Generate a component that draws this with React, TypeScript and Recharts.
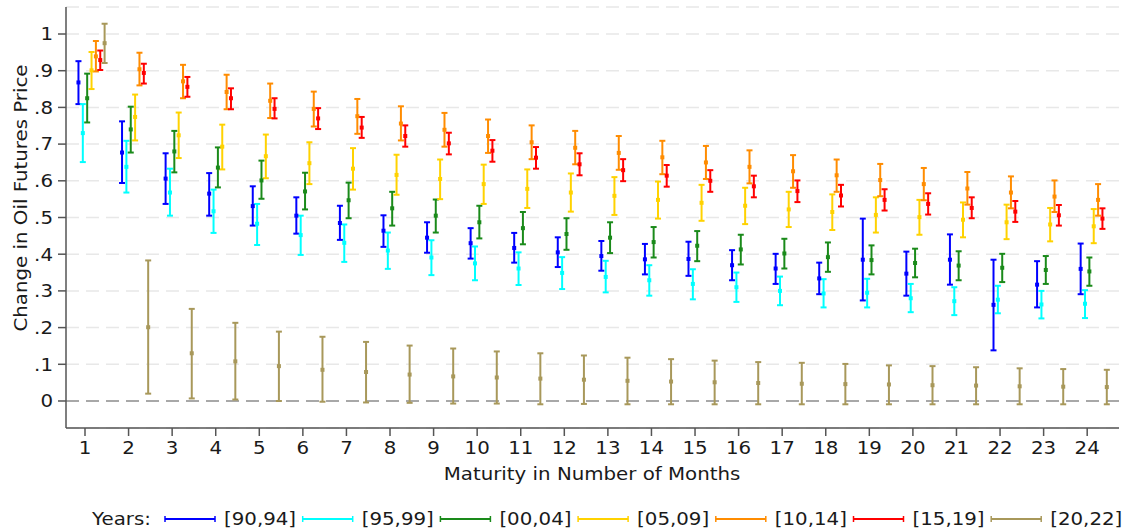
import React from 'react';
import { ScatterChart, Scatter, XAxis, YAxis, CartesianGrid, ErrorBar, ReferenceLine } from 'recharts';

const months = [1, 2, 3, 4, 5, 6, 7, 8, 9, 10, 11, 12, 13, 14, 15, 16, 17, 18, 19, 20, 21, 22, 23, 24];
const yTicks = [0, 0.1, 0.2, 0.3, 0.4, 0.5, 0.6, 0.7, 0.8, 0.9, 1];

const seriesNames = ['[90,94]', '[95,99]', '[00,04]', '[05,09]', '[10,14]', '[15,19]', '[20,22]'];
const seriesColors = ['#0000ff', '#00ffff', '#1a8a1a', '#ffd200', '#ff8c00', '#ff0000', '#a8985a'];
const seriesOffsets = [-0.15, -0.05, 0.05, 0.15, 0.25, 0.35, 0.45];

// [90,94]
const mid9094 = [0.868, 0.677, 0.606, 0.565, 0.531, 0.505, 0.485, 0.464, 0.445, 0.43, 0.417, 0.405, 0.395, 0.386, 0.387, 0.37, 0.361, 0.334, 0.385, 0.347, 0.385, 0.262, 0.317, 0.36];
const lo9094 = [0.809, 0.594, 0.537, 0.505, 0.478, 0.456, 0.439, 0.42, 0.404, 0.388, 0.377, 0.365, 0.355, 0.345, 0.341, 0.329, 0.319, 0.291, 0.274, 0.287, 0.317, 0.138, 0.255, 0.291];
const hi9094 = [0.926, 0.762, 0.675, 0.621, 0.585, 0.555, 0.532, 0.506, 0.487, 0.471, 0.458, 0.446, 0.436, 0.428, 0.434, 0.411, 0.401, 0.377, 0.497, 0.407, 0.454, 0.385, 0.381, 0.429];
// [95,99]
const mid9599 = [0.73, 0.638, 0.568, 0.517, 0.483, 0.452, 0.431, 0.41, 0.391, 0.375, 0.361, 0.349, 0.338, 0.329, 0.319, 0.31, 0.3, 0.293, 0.295, 0.28, 0.272, 0.276, 0.263, 0.265];
const lo9599 = [0.651, 0.568, 0.505, 0.458, 0.425, 0.398, 0.379, 0.36, 0.343, 0.329, 0.316, 0.305, 0.296, 0.287, 0.277, 0.27, 0.261, 0.255, 0.255, 0.242, 0.234, 0.239, 0.225, 0.226];
const hi9599 = [0.809, 0.709, 0.633, 0.576, 0.537, 0.505, 0.481, 0.459, 0.438, 0.421, 0.405, 0.392, 0.382, 0.37, 0.359, 0.35, 0.339, 0.332, 0.333, 0.319, 0.31, 0.314, 0.3, 0.302];
// [00,04]
const mid0004 = [0.825, 0.74, 0.68, 0.636, 0.601, 0.571, 0.547, 0.525, 0.505, 0.487, 0.471, 0.455, 0.445, 0.433, 0.423, 0.413, 0.402, 0.392, 0.384, 0.376, 0.369, 0.363, 0.357, 0.353];
const lo0004 = [0.759, 0.677, 0.623, 0.582, 0.551, 0.522, 0.498, 0.478, 0.459, 0.443, 0.427, 0.412, 0.403, 0.391, 0.381, 0.372, 0.361, 0.352, 0.345, 0.337, 0.329, 0.324, 0.319, 0.314];
const hi0004 = [0.892, 0.802, 0.736, 0.691, 0.655, 0.622, 0.595, 0.57, 0.549, 0.532, 0.515, 0.498, 0.487, 0.474, 0.463, 0.453, 0.442, 0.432, 0.424, 0.415, 0.408, 0.401, 0.395, 0.391];
// [05,09]
const mid0509 = [0.901, 0.774, 0.724, 0.693, 0.667, 0.648, 0.633, 0.616, 0.605, 0.591, 0.578, 0.568, 0.559, 0.548, 0.54, 0.532, 0.522, 0.515, 0.507, 0.501, 0.494, 0.487, 0.481, 0.476];
const lo0509 = [0.85, 0.71, 0.662, 0.631, 0.607, 0.591, 0.576, 0.562, 0.55, 0.537, 0.526, 0.516, 0.507, 0.497, 0.491, 0.482, 0.474, 0.466, 0.459, 0.453, 0.446, 0.441, 0.435, 0.43];
const hi0509 = [0.951, 0.835, 0.786, 0.753, 0.726, 0.705, 0.689, 0.671, 0.658, 0.644, 0.631, 0.62, 0.61, 0.598, 0.589, 0.581, 0.57, 0.563, 0.555, 0.548, 0.541, 0.535, 0.526, 0.523];
// [10,14]
const mid1014 = [0.939, 0.904, 0.871, 0.842, 0.818, 0.796, 0.776, 0.756, 0.739, 0.722, 0.705, 0.69, 0.676, 0.664, 0.65, 0.638, 0.626, 0.615, 0.602, 0.591, 0.579, 0.568, 0.557, 0.548];
const lo1014 = [0.898, 0.86, 0.825, 0.795, 0.771, 0.748, 0.728, 0.71, 0.693, 0.676, 0.659, 0.645, 0.63, 0.618, 0.605, 0.593, 0.581, 0.57, 0.558, 0.547, 0.535, 0.525, 0.515, 0.505];
const hi1014 = [0.981, 0.949, 0.916, 0.889, 0.865, 0.843, 0.823, 0.803, 0.785, 0.767, 0.751, 0.736, 0.722, 0.709, 0.695, 0.683, 0.67, 0.658, 0.646, 0.635, 0.624, 0.612, 0.601, 0.591];
// [15,19]
const mid1519 = [0.929, 0.894, 0.856, 0.825, 0.796, 0.77, 0.745, 0.722, 0.702, 0.682, 0.663, 0.645, 0.629, 0.614, 0.6, 0.585, 0.572, 0.56, 0.548, 0.537, 0.526, 0.516, 0.506, 0.497];
const lo1519 = [0.902, 0.865, 0.829, 0.795, 0.77, 0.741, 0.717, 0.693, 0.672, 0.652, 0.633, 0.615, 0.599, 0.584, 0.57, 0.555, 0.542, 0.53, 0.519, 0.508, 0.498, 0.488, 0.478, 0.469];
const hi1519 = [0.955, 0.919, 0.883, 0.852, 0.825, 0.798, 0.774, 0.751, 0.731, 0.711, 0.692, 0.675, 0.659, 0.643, 0.629, 0.614, 0.601, 0.589, 0.577, 0.566, 0.555, 0.545, 0.534, 0.525];
// [20,22]
const mid2022 = [0.975, 0.201, 0.13, 0.108, 0.095, 0.085, 0.079, 0.072, 0.067, 0.064, 0.061, 0.058, 0.055, 0.053, 0.051, 0.049, 0.047, 0.046, 0.045, 0.043, 0.042, 0.04, 0.039, 0.038];
const lo2022 = [0.921, 0.02, 0.007, 0.004, 0.0, -0.002, -0.004, -0.005, -0.007, -0.007, -0.009, -0.008, -0.009, -0.009, -0.009, -0.009, -0.009, -0.009, -0.009, -0.009, -0.009, -0.009, -0.009, -0.009];
const hi2022 = [1.028, 0.383, 0.251, 0.213, 0.189, 0.175, 0.161, 0.151, 0.143, 0.135, 0.13, 0.124, 0.118, 0.114, 0.11, 0.106, 0.104, 0.101, 0.097, 0.095, 0.092, 0.089, 0.087, 0.085];

const seriesMid = [mid9094, mid9599, mid0004, mid0509, mid1014, mid1519, mid2022];
const seriesLo = [lo9094, lo9599, lo0004, lo0509, lo1014, lo1519, lo2022];
const seriesHi = [hi9094, hi9599, hi0004, hi0509, hi1014, hi1519, hi2022];

const FONT = 'DejaVu Sans, Verdana, sans-serif';
const AXIS = '#555555';
const TEXT = '#1a1a1a';
const FS = 18;
const SX = 1.1;

const buildSeries = (k: number) =>
  months.map((m, i) => ({
    x: m + seriesOffsets[k],
    y: seriesMid[k][i],
    err: [seriesMid[k][i] - seriesLo[k][i], seriesHi[k][i] - seriesMid[k][i]],
  }));

const fmtY = (v: number) => {
  if (v === 0) return '0';
  if (v === 1) return '1';
  return '.' + Math.round(v * 10);
};

const makeDot = (color: string) => (props: any) => {
  const { cx, cy } = props;
  if (cx == null || cy == null) return <g />;
  return <rect x={cx - 2} y={cy - 2} width={4} height={4} fill={color} />;
};

const XTick = (props: any) => {
  const { x, y, payload } = props;
  return (
    <text transform={`translate(${x},${y}) scale(${SX},1)`} textAnchor="middle" dy="0.71em" fontFamily={FONT} fontSize={FS} fill={TEXT}>
      {payload.value}
    </text>
  );
};

const YTick = (props: any) => {
  const { x, y, payload } = props;
  return (
    <text transform={`translate(${x},${y}) scale(${SX},1)`} textAnchor="end" dy="0.355em" fontFamily={FONT} fontSize={FS} fill={TEXT}>
      {fmtY(payload.value)}
    </text>
  );
};

const XTitle = () => (
  <text transform={`translate(592,480) scale(${SX},1)`} textAnchor="middle" fontFamily={FONT} fontSize={FS} fill={TEXT}>
    Maturity in Number of Months
  </text>
);

const YTitle = () => (
  <text transform={`translate(27,198) rotate(-90) scale(${SX},1)`} textAnchor="middle" fontFamily={FONT} fontSize={FS} fill={TEXT}>
    Change in Oil Futures Price
  </text>
);

const Legend = () => (
  <svg width={1122} height={30} style={{ position: 'absolute', left: 0, top: 504 }}>
    <text transform={`translate(92,21) scale(${SX},1)`} fontFamily={FONT} fontSize={FS} fill={TEXT}>Years:</text>
    {seriesNames.map((name, i) => {
      const lx = 165 + i * 137.7;
      return (
        <g key={name}>
          <line x1={lx} y1={15} x2={lx + 50} y2={15} stroke={seriesColors[i]} strokeWidth={2} />
          <line x1={lx} y1={12} x2={lx} y2={18} stroke={seriesColors[i]} strokeWidth={1.5} />
          <line x1={lx + 50} y1={12} x2={lx + 50} y2={18} stroke={seriesColors[i]} strokeWidth={1.5} />
          <text transform={`translate(${lx + 59},21) scale(${SX},1)`} fontFamily={FONT} fontSize={FS} fill={TEXT}>{name}</text>
        </g>
      );
    })}
  </svg>
);

export default function App() {
  return (
    <div style={{ position: 'absolute', left: 0, top: 0, width: 1122, height: 529, background: '#fff' }}>
      <ScatterChart width={1122} height={529} margin={{ top: 7, right: 3, bottom: 0, left: 0 }}>
        <CartesianGrid horizontal vertical={false} stroke="#e8e8e8" strokeWidth={1.5} strokeDasharray="13 7" />
        <ReferenceLine y={0} stroke="#a8a8a8" strokeWidth={2} strokeDasharray="13 7" />
        <XAxis
          type="number"
          dataKey="x"
          domain={[0.564, 24.73]}
          ticks={months}
          interval={0}
          allowDataOverflow
          height={101}
          tickSize={8}
          tickMargin={5}
          axisLine={{ stroke: AXIS, strokeWidth: 1.5 }}
          tickLine={{ stroke: AXIS, strokeWidth: 1.5 }}
          tick={<XTick />}
          label={<XTitle />}
        />
        <YAxis
          type="number"
          dataKey="y"
          domain={[-0.0736, 1.0736]}
          ticks={yTicks}
          interval={0}
          allowDataOverflow
          width={66}
          tickSize={8}
          tickMargin={5}
          axisLine={{ stroke: AXIS, strokeWidth: 1.5 }}
          tickLine={{ stroke: AXIS, strokeWidth: 1.5 }}
          tick={<YTick />}
          label={<YTitle />}
        />
        {seriesNames.map((name, k) => (
          <Scatter
            key={name}
            name={name}
            data={buildSeries(k)}
            fill={seriesColors[k]}
            shape={makeDot(seriesColors[k])}
            isAnimationActive={false}
          >
            <ErrorBar dataKey="err" direction="y" width={3} stroke={seriesColors[k]} strokeWidth={2} isAnimationActive={false} />
          </Scatter>
        ))}
      </ScatterChart>
      <Legend />
    </div>
  );
}
